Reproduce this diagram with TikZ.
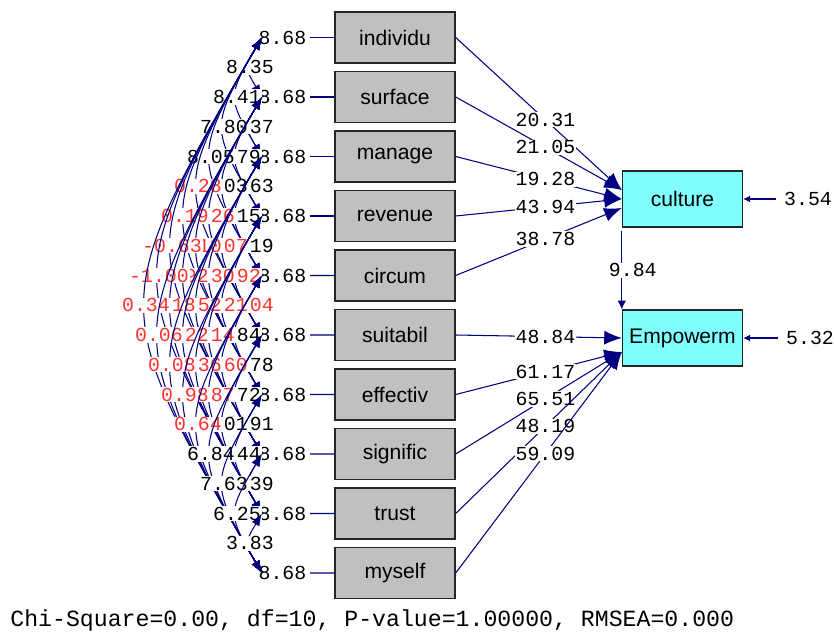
\documentclass[tikz,border=0pt]{standalone}
\usepackage{fontspec}
\setmainfont{Liberation Sans}
\setmonofont{Liberation Mono}
\usetikzlibrary{arrows.meta}

\definecolor{lisrelblue}{RGB}{0,0,128}
\definecolor{boxgray}{RGB}{192,192,192}
\definecolor{boxcyan}{RGB}{128,255,255}
\definecolor{tred}{RGB}{255,50,50}

\begin{document}
\begin{tikzpicture}[
  obs/.style={rectangle, draw=black!85, line width=0.8pt, fill=boxgray, minimum width=2.4cm, minimum height=1.02cm, font=\fontsize{12}{14}\selectfont},
  lat/.style={obs, fill=boxcyan, minimum height=1.12cm},
  num/.style={font=\ttfamily\fontsize{11.3}{13}\selectfont, inner sep=0.5pt},
  effect/.style={draw=lisrelblue, line width=0.6pt, -{Latex[length=10pt,width=8pt]}},
  cov/.style={draw=lisrelblue, line width=0.6pt, {Latex[length=7pt,width=5pt]}-{Latex[length=7pt,width=5pt]}},
  err/.style={draw=lisrelblue, line width=0.6pt, -{Latex[length=4pt,width=4pt]}, shorten <=4pt}
]
\useasboundingbox (0,0) rectangle (16.68,-12.7);

\node(x0) [obs] at (7.9, -0.75) {individu};
\node(x1) [obs] at (7.9, -1.94) {surface};
\node(x2) [obs] at (7.9, -3.13) {manage};
\node(x3) [obs] at (7.9, -4.32) {revenue};
\node(x4) [obs] at (7.9, -5.51) {circum};
\node(x5) [obs] at (7.9, -6.70) {suitabil};
\node(x6) [obs] at (7.9, -7.89) {effectiv};
\node(x7) [obs] at (7.9, -9.08) {signific};
\node(x8) [obs] at (7.9, -10.27) {trust};
\node(x9) [obs] at (7.9, -11.46) {myself};

\node(cult) [lat] at (13.65, -3.98) {culture};
\node(emp) [lat] at (13.65, -6.76) {Empowerm};

% variances
\foreach \i in {0,...,9} {
  \node(v\i) [num, inner sep=0pt] at (5.65, -0.75-1.19*\i) {8.68};
  \draw [lisrelblue, line width=0.6pt, shorten <=2pt] (v\i) -- (x\i);
}

% covariances, arc then t-value, in LISREL's order
\foreach \i/\j/\t/\c in {0/1/8.35/black, 0/2/8.41/black, 1/2/9.37/black,
  0/3/7.80/black, 1/3/8.79/black, 2/3/6.63/black,
  0/4/8.05/black, 1/4/4.03/black, 2/4/5.15/black, 3/4/8.19/black,
  0/5/0.28/tred, 1/5/0.26/tred, 2/5/1.07/tred, 3/5/0.92/tred, 4/5/1.04/tred,
  0/6/0.19/tred, 1/6/0.10/tred, 2/6/0.30/tred, 3/6/0.21/tred, 4/6/4.84/black, 5/6/5.78/black,
  0/7/-0.63/tred, 1/7/0.92/tred, 2/7/0.52/tred, 3/7/0.14/tred, 4/7/0.60/tred, 5/7/6.72/black, 6/7/8.91/black,
  0/8/-1.00/tred, 1/8/0.18/tred, 2/8/0.22/tred, 3/8/0.36/tred, 4/8/0.87/tred, 5/8/3.01/black, 6/8/9.44/black, 7/8/8.39/black,
  0/9/0.34/tred, 1/9/0.06/tred, 2/9/0.08/tred, 3/9/0.98/tred, 4/9/0.64/tred, 5/9/6.84/black, 6/9/7.63/black, 7/9/6.25/black, 8/9/3.83/black} {
  \pgfmathsetmacro\s{\j-\i}
  \draw [cov] ([xshift=2pt]v\i.west) .. controls +(-0.346*\s, -0.595*\s) and +(-0.346*\s, 0.595*\s) .. ([xshift=2pt]v\j.west);
  \node(k\i\j) [num, fill=white, text=\c] at ({5.26-0.26*\s}, {-0.75-0.595*(\i+\j)}) {\t};
}

\draw [effect] (x0.east) to node[num, fill=white, pos=0.54] {20.31} ([yshift=0.18cm]cult.west);
\draw [effect] (x1.east) to node[num, fill=white, pos=0.54] {21.05} ([yshift=0.18cm]cult.west);
\draw [effect] (x2.east) to node[num, fill=white, pos=0.54] {19.28} (cult.west);
\draw [effect] (x3.east) to node[num, fill=white, pos=0.54] {43.94} (cult.west);
\draw [effect] (x4.east) to node[num, fill=white, pos=0.54] {38.78} ([yshift=-0.18cm]cult.west);

\draw [effect] (x5.east) to node[num, fill=white, pos=0.54] {48.84} (emp.west);
\draw [effect] (x6.east) to node[num, fill=white, pos=0.54] {61.17} ([yshift=-0.28cm]emp.west);
\draw [effect] (x7.east) to node[num, fill=white, pos=0.54] {65.51} ([yshift=-0.28cm]emp.west);
\draw [effect] (x8.east) to node[num, fill=white, pos=0.54] {48.19} ([yshift=-0.28cm]emp.west);
\draw [effect] (x9.east) to node[num, fill=white, pos=0.54] {59.09} ([yshift=-0.28cm]emp.west);

\draw [effect, -{Latex[length=5pt,width=5pt]}] ([yshift=-2pt]cult.south west) to node[num, fill=white, xshift=0.22cm] {9.84} (emp.north west);

\node(e1) [num] at (16.16, -3.98) {3.54};
\node(e2) [num] at (16.2, -6.76) {5.32};
\draw [err] (e1) -- (cult);
\draw [err] (e2) -- (emp);

\node(fit) [anchor=west, inner sep=0pt, font=\ttfamily\fontsize{13.2}{15}\selectfont] at (0.2, -12.4) {Chi-Square=0.00, df=10, P-value=1.00000, RMSEA=0.000};

\end{tikzpicture}
\end{document}
